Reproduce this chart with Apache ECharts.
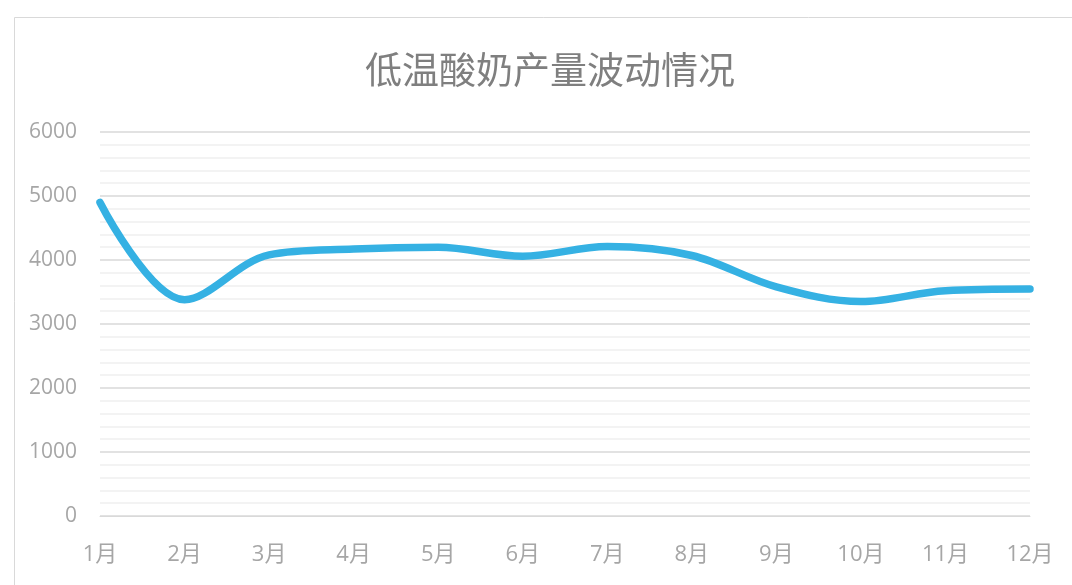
<!DOCTYPE html>
<html>
<head>
<meta charset="utf-8">
<script src="https://cdn.jsdelivr.net/npm/echarts@6/dist/echarts.min.js"></script>
<style>
  html, body { margin: 0; padding: 0; background: #fff; }
  #container { width: 1072px; height: 585px; }
</style>
</head>
<body>
<div id="container"></div>
<script>
var titleText = '低温酸奶产量波动情况';
var months = ['1月', '2月', '3月', '4月', '5月', '6月', '7月', '8月', '9月', '10月', '11月', '12月'];
var output = [4900, 3380, 4080, 4170, 4200, 4060, 4210, 4070, 3580, 3350, 3520, 3545];
var yTicks = [0, 6000, 1000];  // min, max, interval

var font = '"Open Sans", "Noto Sans CJK SC", sans-serif';
var myChart = echarts.init(document.getElementById('container'));

var option = {
    backgroundColor: '#fff',
    animation: false,
    graphic: [{
        type: 'rect',
        left: 12,
        top: 15,
        shape: { width: 1080, height: 600 },
        style: { fill: 'none', stroke: '#d9d9d9', lineWidth: 1 },
        silent: true,
        z: -1
    }],
    title: {
        text: titleText,
        left: 360,
        top: 46,
        textStyle: {
            color: '#7f7f7f',
            fontSize: 37,
            fontWeight: 'normal',
            fontFamily: '"Noto Sans CJK SC", sans-serif'
        }
    },
    grid: {
        left: 100,
        right: 42,
        top: 132,
        bottom: 69
    },
    xAxis: {
        type: 'category',
        data: months,
        boundaryGap: false,
        axisLine: { show: true, lineStyle: { color: '#d9d9d9', width: 1 } },
        axisTick: { show: false },
        axisLabel: {
            color: '#a6a6a6',
            fontSize: 22,
            fontFamily: font,
            margin: 28
        },
        splitLine: { show: false }
    },
    yAxis: {
        type: 'value',
        min: yTicks[0],
        max: yTicks[1],
        interval: yTicks[2],
        axisLine: { show: false },
        axisTick: { show: false },
        axisLabel: {
            color: '#a6a6a6',
            fontSize: 21,
            fontFamily: font,
            margin: 23,
            formatter: function (v) { return String(v); }
        },
        splitLine: { show: true, lineStyle: { color: '#d9d9d9', width: 1.5 } },
        minorTick: { show: false, splitNumber: 5 },
        minorSplitLine: { show: true, lineStyle: { color: '#f0f0f0', width: 1.5 } }
    },
    series: [{
        name: '产量',
        type: 'line',
        data: output,
        smooth: 0.35,
        symbol: 'none',
        lineStyle: { color: '#35b1e3', width: 7.5, cap: 'round' },
        itemStyle: { color: '#35b1e3' }
    }]
};

myChart.setOption(option);
</script>
</body>
</html>
